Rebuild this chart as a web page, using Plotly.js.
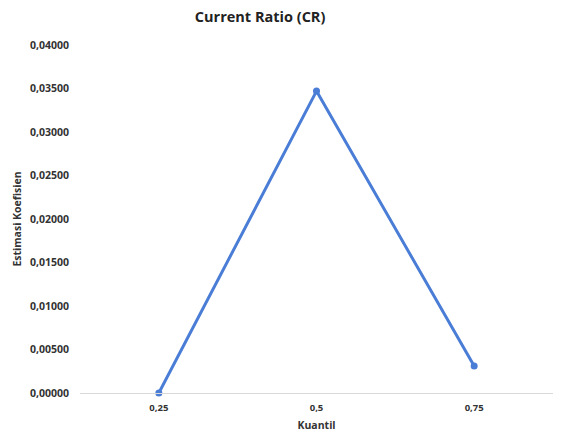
<!DOCTYPE html>
<html>
<head>
<meta charset="utf-8">
<script src="https://cdn.plot.ly/plotly-3.0.1.min.js"></script>
<style>html,body{margin:0;padding:0;background:#fff;}#chart{width:563px;height:439px;}</style>
</head>
<body>
<div id="chart"></div>
<script>
const quantiles = ["0,25", "0,5", "0,75"];
const coefficients = [0.0000, 0.0347, 0.0031];
const yTicks = [0, 0.005, 0.01, 0.015, 0.02, 0.025, 0.03, 0.035, 0.04];

const trace = {
  x: quantiles,
  y: coefficients,
  type: 'scatter',
  mode: 'lines+markers',
  line: {color: '#4a7dd6', width: 3},
  marker: {color: '#4a7dd6', size: 7},
  cliponaxis: false,
  hoverinfo: 'none'
};

const layout = {
  width: 563, height: 439,
  separators: ',.',
  margin: {l: 80, r: 10, t: 45, b: 46},
  paper_bgcolor: '#fff', plot_bgcolor: '#fff',
  showlegend: false,
  title: {text: '<b>Current Ratio (CR)</b>', x: 0.462, xanchor: 'center', y: 0.962, yanchor: 'middle',
          font: {family: 'Open Sans, Liberation Sans, sans-serif', size: 14.5, color: '#222'}},
  xaxis: {
    type: 'category', range: [-0.5, 2.5],
    showgrid: false, zeroline: false, showline: true, linecolor: '#d9d9d9', linewidth: 1,
    ticks: '', ticklabelstandoff: 6,
    tickfont: {family: 'Open Sans, sans-serif', size: 9.5, color: '#333', weight: 'bold'},
    title: {text: '<b>Kuantil</b>', standoff: 8, font: {family: 'Open Sans, sans-serif', size: 10.5, color: '#333'}}
  },
  yaxis: {
    range: [0, 0.04], tickvals: yTicks, tickformat: '.5f',
    showgrid: false, zeroline: false, showline: false, ticks: '', ticklabelstandoff: 10,
    tickfont: {family: 'Open Sans, sans-serif', size: 10.5, color: '#333', weight: 'bold'},
    title: {text: '<b>Estimasi Koefisien</b>', standoff: 6, font: {family: 'Open Sans, sans-serif', size: 10.5, color: '#333'}}
  }
};

Plotly.newPlot('chart', [trace], layout, {displayModeBar: false, staticPlot: true});
</script>
</body>
</html>
